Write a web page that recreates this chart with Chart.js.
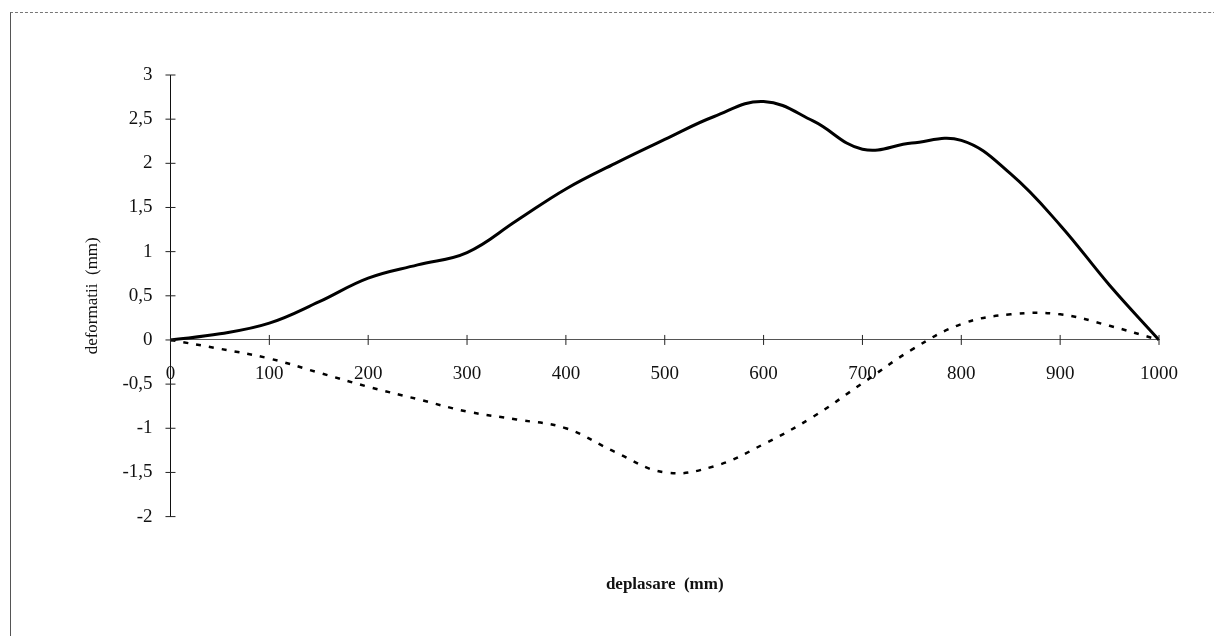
<!DOCTYPE html>
<html>
<head>
<meta charset="utf-8">
<script src="https://cdn.jsdelivr.net/npm/chart.js@4/dist/chart.umd.min.js"></script>
<style>
  html, body { margin: 0; padding: 0; background: #fff; }
  .wrap { position: relative; width: 1214px; height: 636px; overflow: hidden; }
  .frame { position: absolute; left: 10px; top: 12px; width: 1300px; height: 700px;
           border-top: 1px dashed #777; border-left: 1px solid #555; }
  canvas { position: absolute; left: 0; top: 0; }
</style>
</head>
<body>
<div class="wrap">
  <div class="frame"></div>
  <canvas id="chart" width="1214" height="636"></canvas>
</div>
<script>
// deplasare (mm)
const deplasare = [0, 50, 100, 150, 200, 250, 300, 350, 400, 450, 500,
                   550, 600, 650, 700, 750, 800, 850, 900, 950, 1000];
// deformatii (mm) - curba continua
const deformSus = [0, 0.07, 0.19, 0.43, 0.70, 0.85, 0.99, 1.35, 1.71, 2.00, 2.27,
                   2.53, 2.70, 2.48, 2.16, 2.23, 2.26, 1.88, 1.30, 0.62, 0];
// deformatii (mm) - curba punctata
const deformJos = [0, -0.10, -0.21, -0.37, -0.53, -0.67, -0.81, -0.90, -1.00, -1.27, -1.50,
                   -1.43, -1.18, -0.87, -0.49, -0.11, 0.18, 0.29, 0.29, 0.16, 0];

const xTicks = [0, 100, 200, 300, 400, 500, 600, 700, 800, 900, 1000];
const yTicks = [-2, -1.5, -1, -0.5, 0, 0.5, 1, 1.5, 2, 2.5, 3];

const serif = "'Liberation Serif', 'DejaVu Serif', serif";
Chart.defaults.font.family = serif;
Chart.defaults.color = '#111';

const toPoints = (ys) => deplasare.map((x, i) => ({ x: x, y: ys[i] }));

// small crosses on the axes, like the original
const crossTicks = {
  id: 'crossTicks',
  afterDraw(chart) {
    const ctx = chart.ctx;
    const xs = chart.scales.x, ys = chart.scales.y;
    const y0 = ys.getPixelForValue(0), x0 = xs.getPixelForValue(0);
    ctx.save();
    ctx.strokeStyle = '#222';
    ctx.lineWidth = 1;
    ctx.beginPath();
    xTicks.forEach(v => {
      const px = xs.getPixelForValue(v);
      ctx.moveTo(px, y0 - 5); ctx.lineTo(px, y0 + 5);
    });
    yTicks.forEach(v => {
      const py = ys.getPixelForValue(v);
      ctx.moveTo(x0 - 5, py); ctx.lineTo(x0 + 5, py);
    });
    ctx.stroke();
    ctx.restore();
  }
};

const chart = new Chart(document.getElementById('chart'), {
  type: 'line',
  data: {
    datasets: [{
      data: toPoints(deformSus),
      borderColor: '#000',
      borderWidth: 3,
      pointRadius: 0,
      tension: 0.4,
      fill: false
    }, {
      data: toPoints(deformJos),
      borderColor: '#000',
      borderWidth: 2.5,
      borderDash: [5, 8],
      pointRadius: 0,
      tension: 0.4,
      fill: false
    }]
  },
  options: {
    responsive: false,
    animation: false,
    layout: { padding: { left: 82, right: 55, top: 75, bottom: 41 } },
    plugins: {
      legend: { display: false },
      tooltip: { enabled: false },
      title: {
        display: true,
        text: 'deplasare  (mm)',
        position: 'bottom',
        fullSize: false,
        color: '#111',
        font: { family: serif, size: 17, weight: 'bold' },
        padding: { top: 58, bottom: 0 }
      },
      subtitle: {
        display: true,
        text: 'deformatii  (mm)',
        position: 'left',
        fullSize: false,
        color: '#111',
        font: { family: serif, size: 17, weight: 'normal' },
        padding: { top: 0, bottom: 2 }
      }
    },
    scales: {
      x: {
        type: 'linear',
        position: { y: 0 },
        min: 0,
        max: 1000,
        grid: { display: false, drawTicks: false },
        border: { display: true, color: '#555', width: 1 },
        ticks: { stepSize: 100, autoSkip: false, maxRotation: 0, padding: 23,
                 font: { size: 19 }, color: '#111',
                 callback: (v) => String(v) }
      },
      y: {
        type: 'linear',
        position: 'left',
        min: -2,
        max: 3,
        grid: { display: false, drawTicks: false },
        border: { display: true, color: '#111', width: 1 },
        ticks: { stepSize: 0.5, autoSkip: false, padding: 18,
                 font: { size: 19 }, color: '#111',
                 callback: (v) => String(v).replace('.', ',') }
      }
    }
  },
  plugins: [crossTicks]
});
</script>
</body>
</html>
